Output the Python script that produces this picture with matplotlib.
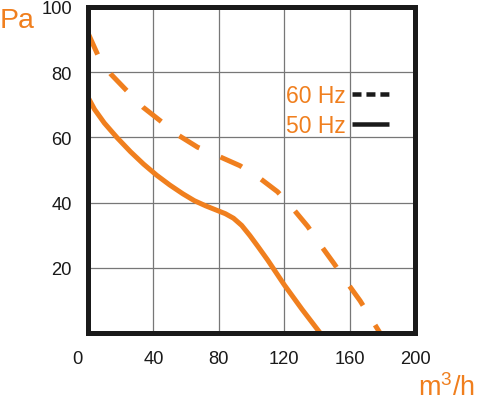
import numpy as np
import matplotlib
matplotlib.use("Agg")
import matplotlib.pyplot as plt
from matplotlib.lines import Line2D

plt.rcParams["font.family"] = ["Liberation Sans", "DejaVu Sans"]

# ── data ─────────────────────────────────────────
flow_60 = [0, 6, 14, 23.4, 33.8, 44.2, 55.8, 67, 80, 93, 105, 116,
           125.6, 134.4, 142.5, 150.6, 158.2, 166.4, 178.6]
pres_60 = [92, 85.3, 79.4, 74.5, 69.2, 65.1, 60.5, 57, 54.2, 51.3, 47.5, 43.3,
           38, 32.7, 26.8, 21.2, 15.6, 9.9, 0]

flow_50 = [0, 4, 10, 18, 26, 34, 42, 50, 58, 65, 72, 78, 84, 89, 94, 99,
           104, 110, 120, 131, 142]
pres_50 = [72.3, 68.6, 64.4, 59.8, 55.6, 51.8, 48.4, 45.4, 42.7, 40.6, 39.0,
           37.8, 36.6, 35.2, 33.0, 29.9, 26.5, 22.3, 14.8, 7.2, 0]

x_ticks = [40, 80, 120, 160, 200]
x_tick_labels = ["40", "80", "120", "160", "200"]
x_marks = [40, 80, 120, 160]
y_ticks = [20, 40, 60, 80, 100]
y_tick_labels = ["20", "40", "60", "80", "100"]
y_marks = [20, 60]

series_labels = ["60 Hz", "50 Hz"]

ORANGE = "#F07F1E"
DARK = "#1a1a1a"
DPI = 100
px = 72 / DPI  # points per pixel

fig = plt.figure(figsize=(4.79, 4.02), dpi=DPI)
ax = fig.add_axes([88 / 479, 68 / 402, 327 / 479, 326 / 402])

# curves
ax.plot(flow_60, pres_60, color=ORANGE, lw=5 * px, linestyle=(0, (4.7, 4.6)),
        dash_capstyle="butt", dash_joinstyle="round", zorder=3)
ax.plot(flow_50, pres_50, color=ORANGE, lw=5 * px, solid_capstyle="butt",
        solid_joinstyle="round", zorder=3)

ax.set_xlim(0, 200)
ax.set_ylim(0, 100)

# labelled ticks (no marks) + marks on minor ticks
ax.set_xticks(x_ticks)
ax.set_xticklabels(x_tick_labels)
ax.set_yticks(y_ticks)
ax.set_yticklabels(y_tick_labels)
ax.set_xticks(x_marks, minor=True)
ax.set_yticks(y_marks, minor=True)
ax.tick_params(which="major", length=0, labelsize=13.2, colors=DARK)
ax.tick_params(axis="x", which="major", pad=17 * px)
ax.tick_params(axis="y", which="major", pad=16 * px)
ax.tick_params(which="minor", direction="inout", length=16 * px, width=4 * px,
               color=DARK)

ax.grid(True, which="major", color="#777777", lw=0.9, zorder=1)
ax.set_axisbelow(True)

# "0" sits a bit left of the corner in the reference
ax.annotate("0", xy=(0, 0), xycoords=("data", "axes fraction"),
            xytext=(-11 * px, -17 * px), textcoords="offset points",
            ha="center", va="top", fontsize=13.2, color=DARK)

for sp in ax.spines.values():
    sp.set_linewidth(5 * px)
    sp.set_color(DARK)
    sp.set_capstyle("projecting")
    sp.set_zorder(5)

# axis titles
fig.text(0 / 479, 1 - 27.5 / 402, "Pa", color=ORANGE, fontsize=20.5,
         ha="left", va="baseline")
fig.text(475 / 479, 1 - 396 / 402, r"$\mathregular{m^3/h}$", color=ORANGE,
         fontsize=19.5, ha="right", va="baseline")

# legend with black sample lines, text on the left
handles = [
    Line2D([], [], color=DARK, lw=4.5 * px, linestyle=(0, (2, 1.1)),
           dash_capstyle="butt"),
    Line2D([], [], color=DARK, lw=4.5 * px, solid_capstyle="butt"),
]
leg = ax.legend(handles, series_labels, loc="upper right",
                bbox_to_anchor=((389 - 88) / 327, (334 - 85) / 326),
                frameon=False, markerfirst=False, fontsize=16.5,
                labelcolor=ORANGE, handlelength=37 / 23, handletextpad=0.3,
                labelspacing=0.3, borderpad=0, borderaxespad=0)
leg.set_zorder(6)

fig.savefig("out.png", dpi=DPI)
